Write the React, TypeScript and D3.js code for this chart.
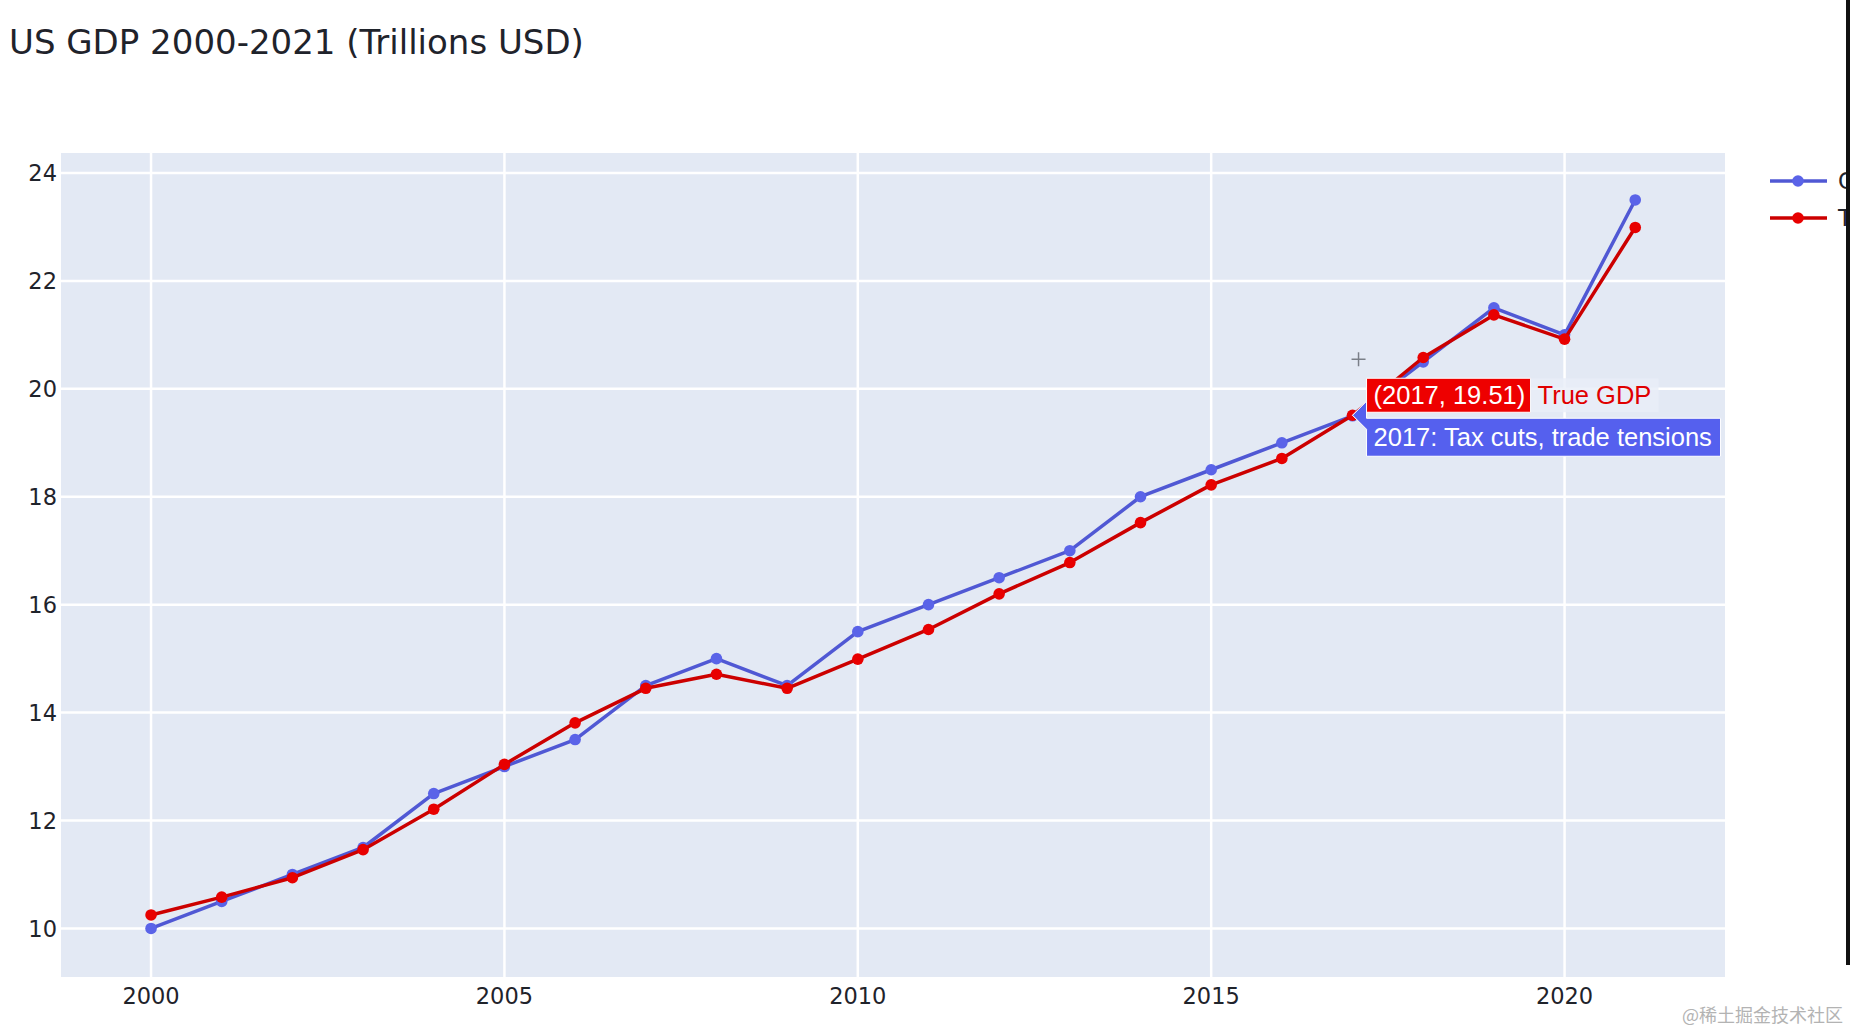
import * as d3 from 'd3';

// data
const years = [2000, 2001, 2002, 2003, 2004, 2005, 2006, 2007, 2008, 2009, 2010,
  2011, 2012, 2013, 2014, 2015, 2016, 2017, 2018, 2019, 2020, 2021];
const gdpReported = [10.0, 10.5, 11.0, 11.5, 12.5, 13.0, 13.5, 14.5, 15.0, 14.5, 15.5,
  16.0, 16.5, 17.0, 18.0, 18.5, 19.0, 19.5, 20.5, 21.5, 21.0, 23.5];
const gdpTrue = [10.25, 10.58, 10.94, 11.46, 12.21, 13.04, 13.81, 14.45, 14.71, 14.45, 14.99,
  15.54, 16.2, 16.78, 17.52, 18.22, 18.71, 19.51, 20.58, 21.37, 20.92, 22.99];
const seriesNames = ['GDP', 'True GDP'];
const xTicks = [2000, 2005, 2010, 2015, 2020];
const yTicks = [10, 12, 14, 16, 18, 20, 22, 24];
const hoverYear = 2017;
const hoverNote = '2017: Tax cuts, trade tensions';

const W = 1850;
const H = 1032;
const plot = { x0: 61, x1: 1725, y0: 153, y1: 977 };

const BLUE = '#5058d4';
const BLUE_MK = '#5a63e8';
const RED = '#cc0000';
const RED_MK = '#e80000';
const TXT = '#1f232b';

export default function App() {
  const x = d3.scaleLinear().domain([1998.726, 2022.27]).range([plot.x0, plot.x1]);
  const y = d3.scaleLinear().domain([9.1, 24.37]).range([plot.y1, plot.y0]);

  const line = d3.line<number>()
    .x((_, i) => x(years[i]))
    .y(d => y(d));

  const hi = years.indexOf(hoverYear);
  const px = x(hoverYear);
  const py = y(gdpTrue[hi]);
  const arrow = 14;

  // hover label shapes (plotly style: arrow tip at point, box to the right)
  const redW = 164, redTop = -37, redBot = -3;
  const blueW = 354, blueTop = 3, blueBot = 41;
  const redPath = `M0,0L${arrow},${arrow}V${redBot}h${redW}V${redTop}H${arrow}V${-arrow}Z`;
  const bluePath = `M0,0L${arrow},${arrow}V${blueBot}h${blueW}V${blueTop}H${arrow}V${-arrow}Z`;

  return (
    <div>
      <style>{`body{margin:0;background:#fff}`}</style>
      <svg width={W} height={H} style={{ display: 'block' }}>
        <rect x={0} y={0} width={W} height={H} fill="#fff" />

        <text x={9} y={54} fontFamily="'DejaVu Sans', Verdana, sans-serif" fontSize={34}
          fill={TXT}>US GDP 2000-2021 (Trillions USD)</text>

        <rect x={plot.x0} y={plot.y0} width={plot.x1 - plot.x0} height={plot.y1 - plot.y0}
          fill="#e3e9f4" />

        {yTicks.map(t => (
          <g key={'y' + t}>
            <line x1={plot.x0} x2={plot.x1} y1={y(t)} y2={y(t)} stroke="#fff" strokeWidth={2.5} />
            <text x={57} y={y(t)} dy="0.36em" textAnchor="end"
              fontFamily="'DejaVu Sans', Verdana, sans-serif" fontSize={22.5} fill={TXT}>{t}</text>
          </g>
        ))}
        {xTicks.map(t => (
          <g key={'x' + t}>
            <line x1={x(t)} x2={x(t)} y1={plot.y0} y2={plot.y1} stroke="#fff" strokeWidth={2.5} />
            <text x={x(t)} y={1004} textAnchor="middle"
              fontFamily="'DejaVu Sans', Verdana, sans-serif" fontSize={22.5} fill={TXT}>{t}</text>
          </g>
        ))}

        <path d={line(gdpReported) || ''} fill="none" stroke={BLUE} strokeWidth={3.5}
          strokeLinejoin="round" />
        {gdpReported.map((v, i) => (
          <circle key={'b' + i} cx={x(years[i])} cy={y(v)} r={5.8} fill={BLUE_MK} />
        ))}
        <path d={line(gdpTrue) || ''} fill="none" stroke={RED} strokeWidth={3.5}
          strokeLinejoin="round" />
        {gdpTrue.map((v, i) => (
          <circle key={'r' + i} cx={x(years[i])} cy={y(v)} r={5.8} fill={RED_MK} />
        ))}

        {/* cursor */}
        <g stroke="#7a7f88" strokeWidth={1.5}>
          <line x1={px - 1} x2={px + 13} y1={py - 56} y2={py - 56} />
          <line x1={px + 6} x2={px + 6} y1={py - 63} y2={py - 49} />
        </g>

        {/* hover labels */}
        <g transform={`translate(${px},${py})`}
          fontFamily="'Liberation Sans', Arial, sans-serif" fontSize={25.5}>
          <path d={redPath} fill="#ee0000" stroke="#fff" strokeWidth={1} />
          <text x={arrow + 7} y={(redTop + redBot) / 2} dy="0.36em" fill="#fff">
            ({hoverYear}, {gdpTrue[hi].toFixed(2)})
          </text>
          <rect x={arrow + redW} y={redTop} width={128} height={redBot - redTop}
            fill="#e9eef7" opacity={0.8} />
          <text x={arrow + redW + 7} y={(redTop + redBot) / 2} dy="0.36em" fill="#e00000">
            {seriesNames[1]}
          </text>
          <path d={bluePath} fill="#5560ee" stroke="#fff" strokeWidth={1} />
          <text x={arrow + 7} y={(blueTop + blueBot) / 2} dy="0.36em" fill="#fff">
            {hoverNote}
          </text>
        </g>

        {/* legend, cut by the right edge like the screenshot */}
        {seriesNames.map((n, i) => {
          const ly = 181 + i * 37;
          const c = i === 0 ? BLUE : RED;
          const mc = i === 0 ? BLUE_MK : RED_MK;
          return (
            <g key={n}>
              <line x1={1770} x2={1827} y1={ly} y2={ly} stroke={c} strokeWidth={3.5} />
              <circle cx={1798} cy={ly} r={5.8} fill={mc} />
              <text x={1838} y={ly} dy="0.36em" fontFamily="'DejaVu Sans', Verdana, sans-serif"
                fontSize={22.5} fill={TXT}>{n}</text>
            </g>
          );
        })}

        <rect x={1846} y={0} width={4} height={965} fill="#111" />

        <text x={1843} y={1022} textAnchor="end" fontFamily="'Noto Sans CJK SC', sans-serif"
          fontSize={18} fill="#b3b3b3">@稀土掘金技术社区</text>
      </svg>
    </div>
  );
}
